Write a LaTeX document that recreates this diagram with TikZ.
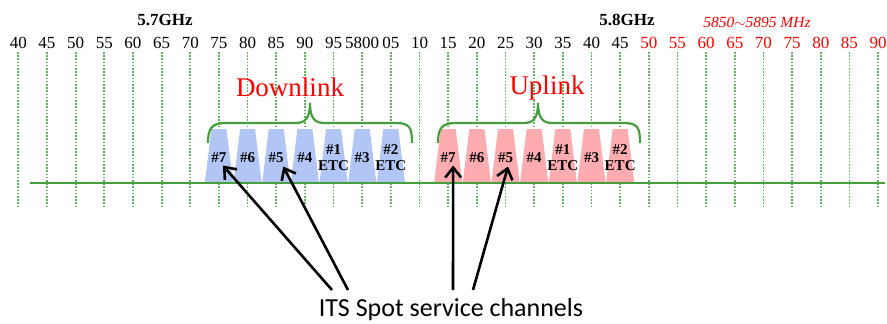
\documentclass[tikz,border=0pt]{standalone}
\usepackage{fontspec}
\setmainfont{Liberation Serif}
\newfontfamily\calibri{Carlito}
\usetikzlibrary{arrows.meta}
\definecolor{downblue}{RGB}{178,198,246}
\definecolor{uppink}{RGB}{255,172,176}
\definecolor{gridgreen}{RGB}{95,178,95}
\definecolor{basegreen}{RGB}{70,158,60}
\def\tickx{18.3}
\def\ticksep{28.66}

\begin{document}
\begin{tikzpicture}[x=1pt,y=-1pt]
  \tikzstyle{grid line}=[draw=gridgreen, line width=1.8pt, dash pattern=on 1.6pt off 1.6pt]
  \tikzstyle{tick}=[font=\fontsize{17}{17}\selectfont, inner sep=0pt]
  \tikzstyle{band}=[font=\bfseries\fontsize{17}{17}\selectfont, inner sep=0pt]
  \tikzstyle{channel}=[font=\bfseries\fontsize{15}{16}\selectfont, align=center, inner sep=0pt]
  \tikzstyle{link}=[font=\fontsize{27}{27}\selectfont, text=red, inner sep=0pt]
  \tikzstyle{brace}=[draw=basegreen, line width=2.2pt]
  \tikzstyle{pointer}=[draw=black, line width=2.6pt, -{Straight Barb[length=10pt,width=16pt]}]

  \useasboundingbox (0,0) rectangle (887,324);

  % dotted grid
  \foreach \i in {0,...,30}
    \draw[grid line] (\tickx+\i*\ticksep,52) -- (\tickx+\i*\ticksep,207);

  \foreach \lab [count=\i from 0] in {40,45,50,55,60,65,70,75,80,85,90,95,5800,05,10,
      15,20,25,30,35,40,45,50,55,60,65,70,75,80,85,90} {
    \ifnum\i>21 \def\col{red}\else\def\col{black}\fi
    \node[tick, text=\col] (t-\i) at (\tickx+\i*\ticksep,43) {\lab};
  }

  \node[band] (ghz7) at (165,20) {5.7GHz};
  \node[band] (ghz8) at (627,20) {5.8GHz};
  \node[font=\itshape\fontsize{15.5}{15.5}\selectfont, text=red, inner sep=0pt] (its-band) at (757,22) {5850$\sim$5895 MHz};

  % channels
  \foreach \lab [count=\k from 7] in {\#7,\#6,\#5,\#4,{\#1\\ETC},\#3,{\#2\\ETC}} {
    \fill[downblue] (\tickx+\k*\ticksep-14,182) -- (\tickx+\k*\ticksep-7.5,129)
      -- (\tickx+\k*\ticksep+7.5,129) -- (\tickx+\k*\ticksep+14,182) -- cycle;
    \node[channel] (D-\k) at (\tickx+\k*\ticksep,157.5) {\lab};
  }

  \foreach \lab [count=\k from 15] in {\#7,\#6,\#5,\#4,{\#1\\ETC},\#3,{\#2\\ETC}} {
    \fill[uppink] (\tickx+\k*\ticksep-14,182) -- (\tickx+\k*\ticksep-7.5,129)
      -- (\tickx+\k*\ticksep+7.5,129) -- (\tickx+\k*\ticksep+14,182) -- cycle;
    \node[channel] (U-\k) at (\tickx+\k*\ticksep,157.5) {\lab};
  }

  \draw[draw=basegreen, line width=2.6pt] (30,183) -- (885,183);

  % braces
  \draw[brace] (208,143) .. controls (208,128) and (212,123) .. (226,123) -- (296,123)
    .. controls (306,123) and (310,117) .. (310,103) .. controls (310,117) and (314,123) .. (324,123)
    -- (396,123) .. controls (410,123) and (412,128) .. (412,143);
  \draw[brace] (438,143) .. controls (438,128) and (442,123) .. (456,123) -- (524,123)
    .. controls (534,123) and (538,117) .. (538,103) .. controls (538,117) and (542,123) .. (552,123)
    -- (624,123) .. controls (638,123) and (640,128) .. (640,143);

  \node[link] (down) at (290,87) {Downlink};
  \node[link] (up) at (547,88) {Uplink};

  % pointers
  \node[font=\calibri\fontsize{26}{26}\selectfont, inner sep=0pt] (its) at (451,310) {ITS Spot service channels};
  \coordinate (s-1) at (332,290);
  \coordinate (s-2) at (348,290);
  \coordinate (s-3) at (453,290);
  \coordinate (s-4) at (473,290);
  \draw[pointer] (s-1) -- ([xshift=4pt,yshift=-8pt]D-7.center);
  \draw[pointer] (s-2) -- ([xshift=7pt,yshift=-9pt]D-9.center);
  \draw[pointer] (s-3) -- ([xshift=5pt,yshift=-8pt]U-15.center);
  \draw[pointer] (s-4) -- ([xshift=2.5pt,yshift=-9pt]U-17.center);
\end{tikzpicture}
\end{document}
